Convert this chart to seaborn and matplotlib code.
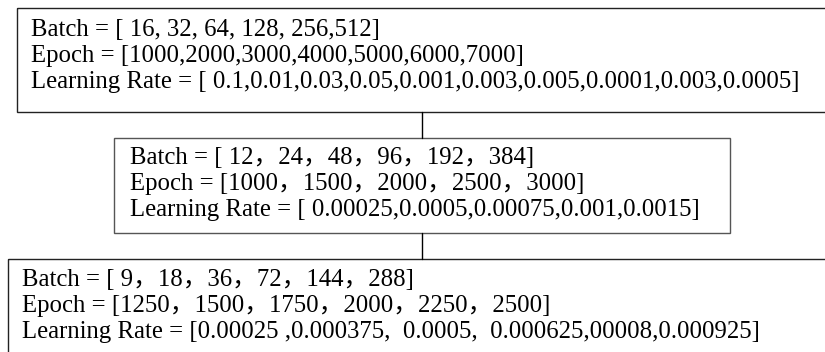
import matplotlib
matplotlib.use("Agg")
import matplotlib.pyplot as plt
import seaborn as sns
from matplotlib.patches import Rectangle

sns.set_theme(style="white")
plt.rcParams['font.family'] = ['Liberation Serif', 'Noto Sans CJK SC']

# ---- data (hyper-parameter grids of the three search stages) ----
batch_1 = ["16", "32", "64", "128", "256", "512"]
epoch_1 = ["1000", "2000", "3000", "4000", "5000", "6000", "7000"]
lr_1 = ["0.1", "0.01", "0.03", "0.05", "0.001", "0.003", "0.005", "0.0001", "0.003", "0.0005"]

batch_2 = ["12", "24", "48", "96", "192", "384"]
epoch_2 = ["1000", "1500", "2000", "2500", "3000"]
lr_2 = ["0.00025", "0.0005", "0.00075", "0.001", "0.0015"]

batch_3 = ["9", "18", "36", "72", "144", "288"]
epoch_3 = ["1250", "1500", "1750", "2000", "2250", "2500"]
lr_3 = ["0.00025", "0.000375", "0.0005", "0.000625", "00008", "0.000925"]

# separators as typed in the original figure
seps_b1 = [", ", ", ", ", ", ", ", ","]
seps_e1 = [","] * 6
seps_l1 = [","] * 9
seps_b2 = ["，"] * 5
seps_e2 = ["，"] * 4
seps_l2 = [","] * 4
seps_b3 = ["，"] * 5
seps_e3 = ["，"] * 5
seps_l3 = [" ,", ",  ", ",  ", ",", ","]


def fmt(name, vals, seps, lead=""):
    s = name + " = [" + lead + vals[0]
    for sp, v in zip(seps, vals[1:]):
        s += sp + v
    return s + "]"


boxes = [
    dict(x0=17, y0=8, x1=830, y1=112, tx=31, base=36, color="#222222",
         lines=[fmt("Batch", batch_1, seps_b1, " "),
                fmt("Epoch", epoch_1, seps_e1),
                fmt("Learning Rate", lr_1, seps_l1, " ")]),
    dict(x0=114, y0=138, x1=730, y1=233, tx=130, base=164, color="#555555",
         lines=[fmt("Batch", batch_2, seps_b2, " "),
                fmt("Epoch", epoch_2, seps_e2),
                fmt("Learning Rate", lr_2, seps_l2, " ")]),
    dict(x0=8, y0=259, x1=830, y1=360, tx=22, base=286, color="#222222",
         lines=[fmt("Batch", batch_3, seps_b3, " "),
                fmt("Epoch", epoch_3, seps_e3),
                fmt("Learning Rate", lr_3, seps_l3)]),
]

fig = plt.figure(figsize=(8.25, 3.52), dpi=100)
ax = fig.add_axes([0, 0, 1, 1])
ax.set_xlim(0, 825)
ax.set_ylim(352, 0)
ax.axis("off")

for b in boxes:
    ax.add_patch(Rectangle((b["x0"], b["y0"]), b["x1"] - b["x0"], b["y1"] - b["y0"],
                           fill=False, edgecolor=b["color"], linewidth=1.0))
    for i, line in enumerate(b["lines"]):
        ax.text(b["tx"], b["base"] + 26 * i, line, fontsize=17.8, color="black",
                ha="left", va="baseline")

# connectors between stages
ax.plot([422, 422], [112, 138], color="black", linewidth=1.0)
ax.plot([422, 422], [233, 259], color="black", linewidth=1.0)

fig.savefig("out.png", dpi=100)
